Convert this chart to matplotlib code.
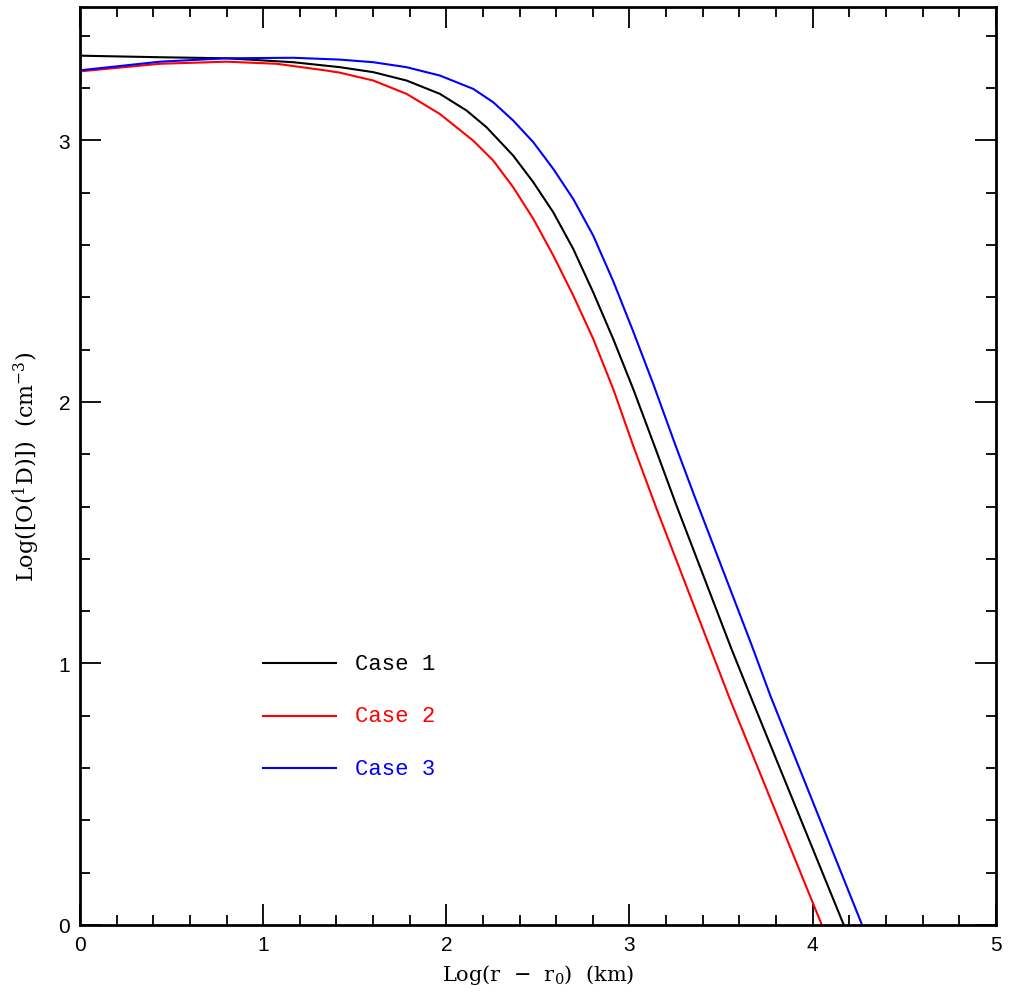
import numpy as np
import matplotlib
matplotlib.use("Agg")
import matplotlib.pyplot as plt
from matplotlib.ticker import MultipleLocator

plt.rcParams['mathtext.default'] = 'regular'

# Case 1 (black)
x1 = [0.0, 0.437, 0.80, 1.164, 1.419, 1.601, 1.783, 1.965, 2.111, 2.220, 2.365, 2.475, 2.584,
      2.693, 2.802, 2.911, 3.020, 3.129, 3.257, 3.557, 3.667, 4.17]
y1 = [3.324, 3.318, 3.314, 3.299, 3.280, 3.261, 3.229, 3.178, 3.114, 3.050, 2.942, 2.840, 2.725,
      2.585, 2.419, 2.241, 2.050, 1.846, 1.603, 1.055, 0.864, 0.0]

# Case 2 (red)
x2 = [0.0, 0.437, 0.80, 1.074, 1.347, 1.419, 1.601, 1.783, 1.965, 2.147, 2.256, 2.365, 2.475,
      2.584, 2.693, 2.802, 2.911, 3.020, 3.148, 3.548, 4.05]
y2 = [3.264, 3.293, 3.301, 3.293, 3.267, 3.259, 3.229, 3.178, 3.101, 2.999, 2.923, 2.821, 2.700,
      2.560, 2.407, 2.241, 2.050, 1.833, 1.591, 0.864, 0.0]

# Case 3 (blue)
x3 = [0.0, 0.437, 0.80, 1.164, 1.419, 1.601, 1.783, 1.965, 2.147, 2.256, 2.365, 2.475, 2.584,
      2.693, 2.802, 2.911, 3.020, 3.129, 3.248, 3.352, 3.667, 3.77, 4.27]
y3 = [3.268, 3.301, 3.314, 3.316, 3.309, 3.299, 3.280, 3.248, 3.197, 3.146, 3.076, 2.993, 2.891,
      2.776, 2.636, 2.462, 2.27, 2.07, 1.84, 1.645, 1.07, 0.875, 0.0]

labels = ['Case 1', 'Case 2', 'Case 3']
colors = ['black', 'red', 'blue']

fig = plt.figure(figsize=(10.11, 10.04), dpi=100)
ax = fig.add_axes([0.0791, 0.0777, 0.9059, 0.9143])

for xs, ys, c in zip([x1, x2, x3], [y1, y2, y3], colors):
    ax.plot(xs, ys, color=c, lw=1.5)

# hand-drawn legend in data coords
for i, (lab, c) in enumerate(zip(labels, colors)):
    yy = 1.0 - 0.2*i
    ax.plot([1.0, 1.4], [yy, yy], color=c, lw=1.5)
    ax.text(1.5, yy, lab, color=c, va='center', ha='left',
            fontsize=16, family='Liberation Mono')

ax.set_xlim(0, 5)
ax.set_ylim(0, 3.51)
ax.xaxis.set_major_locator(MultipleLocator(1))
ax.xaxis.set_minor_locator(MultipleLocator(0.2))
ax.yaxis.set_major_locator(MultipleLocator(1))
ax.yaxis.set_minor_locator(MultipleLocator(0.2))
ax.tick_params(which='both', direction='in', top=True, right=True, width=1.3)
ax.tick_params(which='major', length=15, labelsize=15, pad=7)
ax.tick_params(which='minor', length=7)
for t in ax.get_xticklabels() + ax.get_yticklabels():
    t.set_family('Liberation Sans')
for s in ax.spines.values():
    s.set_linewidth(2)

ax.set_xlabel(r'Log(r  $-$  r$_0$)  (km)', family='DejaVu Serif', fontsize=15, labelpad=6)
ax.set_ylabel(r'Log([O($^1$D)])  (cm$^{-3}$)', family='DejaVu Serif', fontsize=16, labelpad=12)

fig.savefig('out.png', dpi=100)
